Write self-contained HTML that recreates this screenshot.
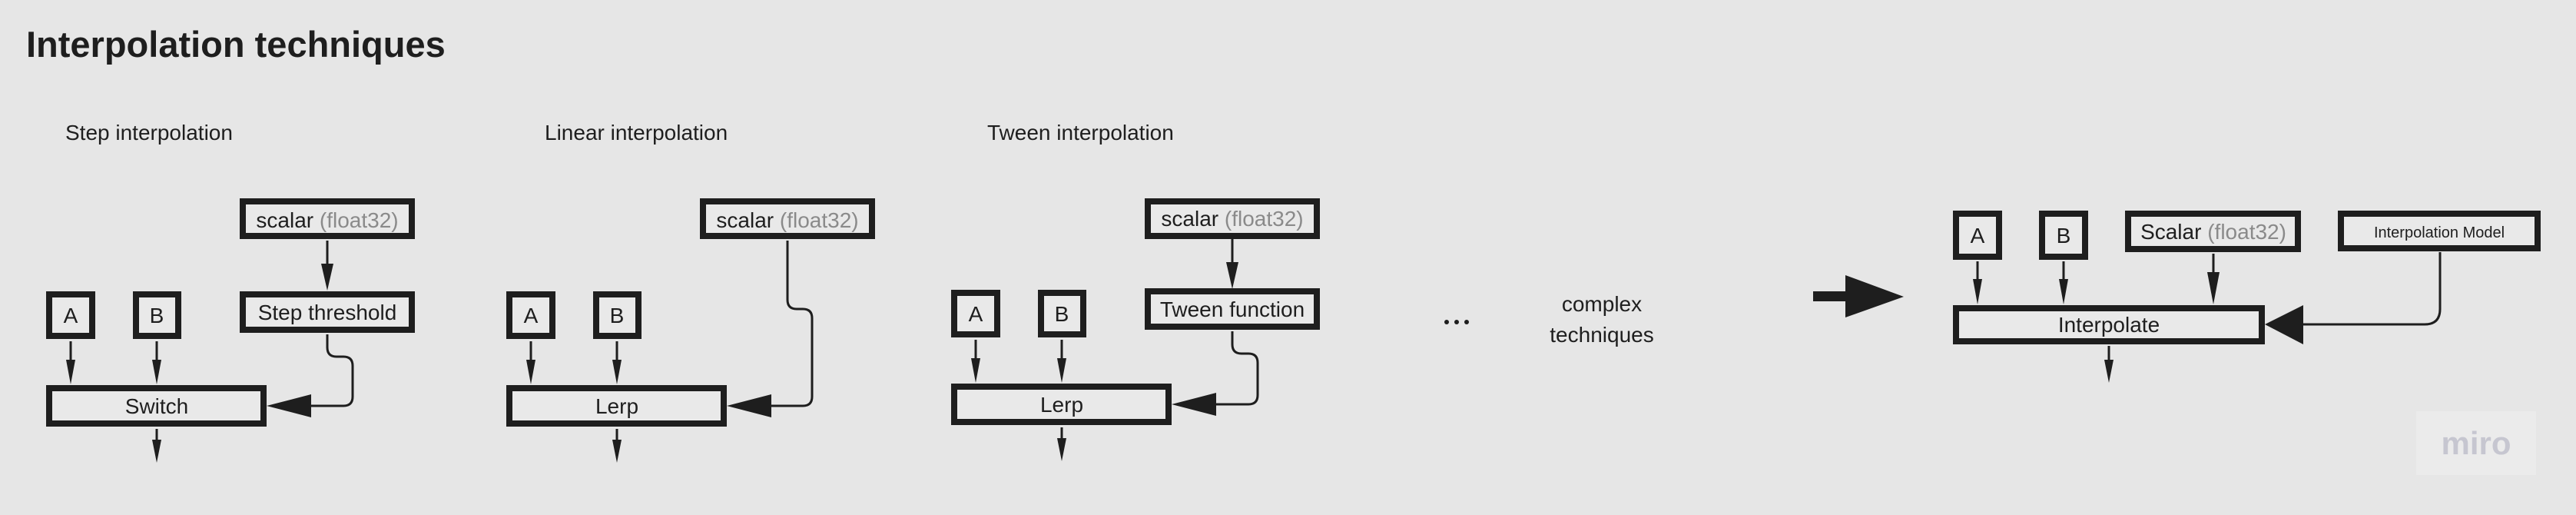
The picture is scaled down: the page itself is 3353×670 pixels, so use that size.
<!DOCTYPE html>
<html><head><meta charset="utf-8"><style>
html,body{margin:0;padding:0;background:#e6e6e6;}
svg{display:block;}
text{font-family:"Liberation Sans",sans-serif;fill:#1e1e1e;}
</style></head><body>
<svg width="3353" height="670" viewBox="0 0 3353 670" xmlns="http://www.w3.org/2000/svg">
<rect width="3353" height="670" fill="#e6e6e6"/>
<text x="34" y="74" font-size="47" font-weight="bold">Interpolation techniques</text>
<text x="85" y="182" font-size="28">Step interpolation</text>
<text x="709" y="182" font-size="28">Linear interpolation</text>
<text x="1285" y="182" font-size="28">Tween interpolation</text>

<g fill="#e9e9e9" stroke="#1e1e1e">
<g>
<rect x="316" y="262" width="220" height="45" stroke-width="8"/>
<rect x="316" y="383" width="220" height="46" stroke-width="8"/>
<rect x="64" y="383" width="56" height="54" stroke-width="8"/>
<rect x="177" y="383" width="55" height="54" stroke-width="8"/>
<rect x="64" y="505" width="279" height="46" stroke-width="8"/>
</g>
<g transform="translate(599,0)">
<rect x="316" y="262" width="220" height="45" stroke-width="8"/>
<rect x="64" y="383" width="56" height="54" stroke-width="8"/>
<rect x="177" y="383" width="55" height="54" stroke-width="8"/>
<rect x="64" y="505" width="279" height="46" stroke-width="8"/>
</g>
<g transform="translate(1178,-2)">
<rect x="316" y="264" width="220" height="45" stroke-width="8"/>
<rect x="316" y="381" width="220" height="46" stroke-width="8"/>
<rect x="64" y="383" width="56" height="54" stroke-width="8"/>
<rect x="177" y="383" width="55" height="54" stroke-width="8"/>
<rect x="64" y="505" width="279" height="46" stroke-width="8"/>
</g>
<rect x="2546" y="278" width="56" height="56" stroke-width="8"/>
<rect x="2658" y="278" width="56" height="56" stroke-width="8"/>
<rect x="2770" y="278" width="221" height="46" stroke-width="8"/>
<rect x="3047" y="278" width="256" height="45" stroke-width="8"/>
<rect x="2546" y="401" width="398" height="43" stroke-width="8"/>
</g>

<g stroke="#1e1e1e" stroke-width="3" fill="none">
<line x1="426" y1="313" x2="426" y2="345"/>
<line x1="92" y1="444" x2="92" y2="475"/>
<line x1="204" y1="444" x2="204" y2="475"/>
<line x1="204" y1="558" x2="204" y2="580"/>
<path d="M426 435 V452 Q426 464 438 464 H447 Q459 464 459 476 V516 Q459 528 447 528 H400"/>
<g transform="translate(599,0)">
<line x1="92" y1="444" x2="92" y2="475"/>
<line x1="204" y1="444" x2="204" y2="475"/>
<line x1="204" y1="558" x2="204" y2="580"/>
<path d="M426 313 V390 Q426 402 438 402 H446 Q458 402 458 414 V516 Q458 528 446 528 H400"/>
</g>
<g transform="translate(1178,-2)">
<line x1="426" y1="313" x2="426" y2="345"/>
<line x1="92" y1="444" x2="92" y2="475"/>
<line x1="204" y1="444" x2="204" y2="475"/>
<line x1="204" y1="558" x2="204" y2="580"/>
<path d="M426 433 V450 Q426 462 438 462 H447 Q459 462 459 474 V516 Q459 528 447 528 H400"/>
</g>
<line x1="2574" y1="340" x2="2574" y2="370"/>
<line x1="2686" y1="340" x2="2686" y2="370"/>
<line x1="2881" y1="330" x2="2881" y2="360"/>
<line x1="2745" y1="450" x2="2745" y2="475"/>
<path d="M3176 328 V402 Q3176 422 3156 422 H2995"/>
</g>

<g fill="#1e1e1e">
<polygon points="418,343 434,343 426,378"/>
<polygon points="86,468 98,468 92,500"/>
<polygon points="198,468 210,468 204,500"/>
<polygon points="198,572 210,572 204,602"/>
<polygon points="347,528 405,513 405,543"/>
<g transform="translate(599,0)">
<polygon points="86,468 98,468 92,500"/>
<polygon points="198,468 210,468 204,500"/>
<polygon points="198,572 210,572 204,602"/>
<polygon points="347,528 405,513 405,543"/>
</g>
<g transform="translate(1178,-2)">
<polygon points="418,343 434,343 426,378"/>
<polygon points="86,468 98,468 92,500"/>
<polygon points="198,468 210,468 204,500"/>
<polygon points="198,572 210,572 204,602"/>
<polygon points="347,528 405,513 405,543"/>
</g>
<polygon points="2568,363 2580,363 2574,396"/>
<polygon points="2680,363 2692,363 2686,396"/>
<polygon points="2873,354 2889,354 2881,396"/>
<polygon points="2739,468 2751,468 2745,498"/>
<polygon points="2948,422 2998,397 2998,448"/>
<polygon points="2360,379 2402,379 2402,358 2478,386 2402,413 2402,392 2360,392"/>
<circle cx="1883" cy="419" r="3"/>
<circle cx="1896" cy="419" r="3"/>
<circle cx="1909" cy="419" r="3"/>
</g>

<g font-size="28" text-anchor="middle">
<text x="426" y="296">scalar <tspan fill="#8a8a8a">(float32)</tspan></text>
<text x="426" y="416">Step threshold</text>
<text x="92" y="420">A</text>
<text x="204" y="420">B</text>
<text x="204" y="538">Switch</text>
<g transform="translate(599,0)">
<text x="426" y="296">scalar <tspan fill="#8a8a8a">(float32)</tspan></text>
<text x="92" y="420">A</text>
<text x="204" y="420">B</text>
<text x="204" y="538">Lerp</text>
</g>
<g transform="translate(1178,-2)">
<text x="426" y="296">scalar <tspan fill="#8a8a8a">(float32)</tspan></text>
<text x="426" y="414">Tween function</text>
<text x="92" y="420">A</text>
<text x="204" y="420">B</text>
<text x="204" y="538">Lerp</text>
</g>
<text x="2574" y="316">A</text>
<text x="2686" y="316">B</text>
<text x="2881" y="311">Scalar <tspan fill="#8a8a8a">(float32)</tspan></text>
<text x="3175" y="309" font-size="20">Interpolation Model</text>
<text x="2745" y="432">Interpolate</text>
<text x="2085" y="405">complex</text>
<text x="2085" y="445">techniques</text>
</g>

<rect x="3145" y="535" width="156" height="83" fill="#ebebeb"/>
<text x="3223" y="591" font-size="42" font-weight="bold" text-anchor="middle" style="fill:#c6c6d0">miro</text>
</svg>
</body></html>
